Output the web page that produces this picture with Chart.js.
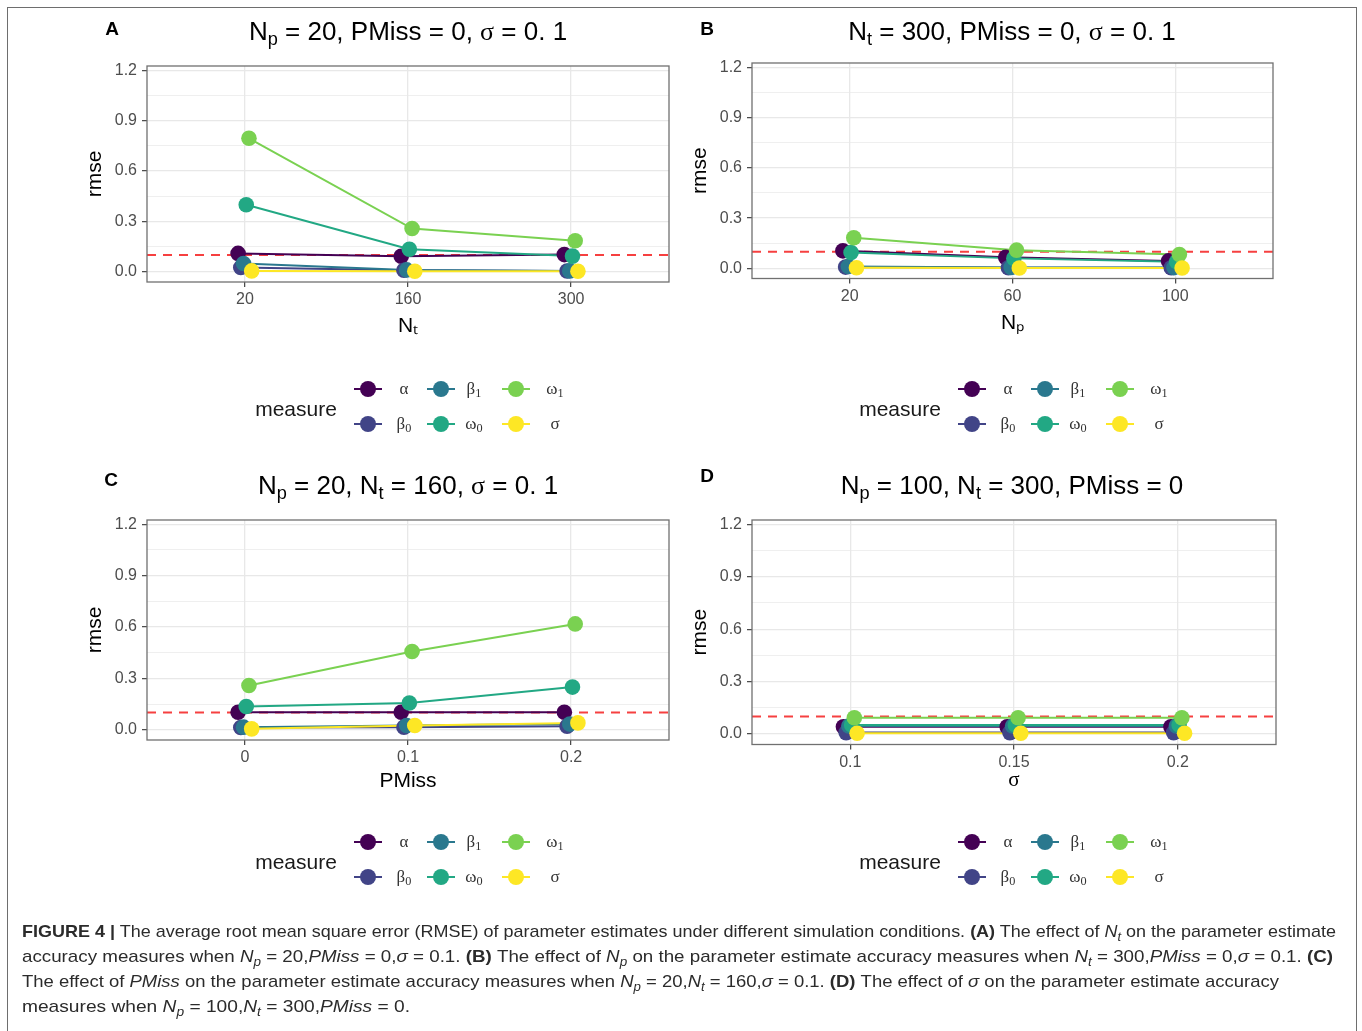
<!DOCTYPE html>
<html><head><meta charset="utf-8">
<script src="https://cdn.jsdelivr.net/npm/chart.js@4.4.0/dist/chart.umd.min.js"></script>
<style>
html,body{margin:0;padding:0;background:#fff;width:1362px;height:1031px;overflow:hidden;position:relative;}
#frame{position:absolute;left:7px;top:7px;width:1350px;height:1060px;border:1px solid #6e6e6e;box-sizing:border-box;}
canvas.pc{position:absolute;left:0;top:0;}
.letter{position:absolute;font-family:"Liberation Sans",Arial,sans-serif;font-weight:bold;font-size:19px;line-height:20px;color:#000;transform:translateX(-50%);}
.ttl{position:absolute;font-family:"Liberation Sans",Arial,sans-serif;font-size:26px;line-height:30px;color:#000;white-space:nowrap;transform:translateX(-50%);}
.ttl sub{font-size:0.7em;vertical-align:-0.3em;line-height:0;}
.sym{font-family:"Liberation Serif","DejaVu Serif",serif;}
.legtitle{position:absolute;font-family:"Liberation Sans",Arial,sans-serif;font-size:21px;line-height:24px;color:#1a1a1a;white-space:nowrap;transform:translate(-50%,-50%);}
.key{position:absolute;width:28px;height:16px;transform:translate(-50%,-50%);}
.key .ln{position:absolute;left:0;top:7px;width:28px;height:2px;}
.key .dt{position:absolute;left:6px;top:0px;width:16px;height:16px;border-radius:50%;}
.klab{position:absolute;font-family:"Liberation Serif","DejaVu Serif",serif;font-size:17px;line-height:20px;color:#333;white-space:nowrap;transform:translate(-50%,-50%);}
.klab sub{font-size:0.72em;vertical-align:-0.25em;line-height:0;}
.cap{position:absolute;left:22px;font-family:"Liberation Sans",Arial,sans-serif;font-size:17px;line-height:22px;color:#2b2b2b;white-space:nowrap;transform-origin:0 50%;}
.cap sub{font-size:0.72em;vertical-align:-0.3em;line-height:0;}
</style>
</head>
<body>
<div id="frame"></div>
<div id="root"></div>
<script>
// ---------------- DATA ----------------
const measures = ['α','β0','β1','ω0','ω1','σ'];
const measureColors = ['#440154','#414487','#2A788E','#22A884','#7AD151','#FDE725'];
const referenceRmse = 0.1;
const yMajorTicks = [0, 0.3, 0.6, 0.9, 1.2];
const yMajorLabels = ['0.0','0.3','0.6','0.9','1.2'];
const yMinorTicks = [0.15, 0.45, 0.75, 1.05];

// Panel A: effect of N_t
const catsA = ['20','160','300'];
const alphaA = [0.110, 0.093, 0.103];
const beta0A = [0.026, 0.010, 0.005];
const beta1A = [0.050, 0.012, 0.006];
const omega0A = [0.400, 0.135, 0.094];
const omega1A = [0.795, 0.258, 0.185];
const sigmaA = [0.006, 0.004, 0.004];

// Panel B: effect of N_p
const catsB = ['20','60','100'];
const alphaB = [0.105, 0.066, 0.045];
const beta0B = [0.008, 0.004, 0.004];
const beta1B = [0.012, 0.006, 0.005];
const omega0B = [0.095, 0.060, 0.040];
const omega1B = [0.183, 0.109, 0.083];
const sigmaB = [0.004, 0.003, 0.003];

// Panel C: effect of PMiss
const catsC = ['0','0.1','0.2'];
const alphaC = [0.102, 0.102, 0.102];
const beta0C = [0.013, 0.015, 0.020];
const beta1C = [0.015, 0.025, 0.033];
const omega0C = [0.136, 0.156, 0.249];
const omega1C = [0.258, 0.457, 0.618];
const sigmaC = [0.005, 0.025, 0.040];

// Panel D: effect of sigma
const catsD = ['0.1','0.15','0.2'];
const alphaD = [0.042, 0.042, 0.042];
const beta0D = [0.008, 0.008, 0.008];
const beta1D = [0.046, 0.046, 0.046];
const omega0D = [0.052, 0.052, 0.052];
const omega1D = [0.093, 0.093, 0.093];
const sigmaD = [0.004, 0.004, 0.004];

// ---------------- LAYOUT ----------------
const W = 1362, H = 1031;
const sansFamily = '"Liberation Sans", Arial, sans-serif';
const serifFamily = '"Liberation Serif", "DejaVu Serif", serif';
const panels = [
  {cats: catsA, series: [alphaA,beta0A,beta1A,omega0A,omega1A,sigmaA], xTitle: 'N\u209C', xFam: sansFamily,
   L:147, R:669, T:66, B:282, yTitleX:95, xTitleY:326},
  {cats: catsB, series: [alphaB,beta0B,beta1B,omega0B,omega1B,sigmaB], xTitle: 'N\u209A', xFam: sansFamily,
   L:752, R:1273, T:63, B:278.5, yTitleX:700, xTitleY:323},
  {cats: catsC, series: [alphaC,beta0C,beta1C,omega0C,omega1C,sigmaC], xTitle: 'PMiss', xFam: sansFamily,
   L:147, R:669, T:520, B:740, yTitleX:95, xTitleY:781},
  {cats: catsD, series: [alphaD,beta0D,beta1D,omega0D,omega1D,sigmaD], xTitle: 'σ', xFam: serifFamily,
   L:752, R:1276, T:520, B:744.5, yTitleX:700, xTitleY:780},
];

const root = document.getElementById('root');
const isMajor = v => yMajorTicks.some(m => Math.abs(m - v) < 1e-9);

const borderPlugin = {
  id: 'panelBorder',
  afterDraw(chart) {
    const a = chart.chartArea, c = chart.ctx;
    c.save();
    c.strokeStyle = '#707070';
    c.lineWidth = 1.3;
    c.strokeRect(a.left, a.top, a.right - a.left, a.bottom - a.top);
    c.restore();
  }
};

const titleSize = 21;
const tickFont = {family: sansFamily, size: 16};
const XMIN = -0.6, XMAX = 2.6, YMIN = -0.06, YMAX = 1.225;
const dodge = 0.1;

panels.forEach((p) => {
  const cv = document.createElement('canvas');
  cv.className = 'pc';
  cv.width = W; cv.height = H;
  root.appendChild(cv);
  const lh = titleSize * 1.2;
  const YW = p.L - p.yTitleX + 4 + lh / 2;
  const XH = p.xTitleY + 4 + lh / 2 - p.B;
  const datasets = [];
  datasets.push({
    data: [{x: XMIN, y: referenceRmse}, {x: XMAX, y: referenceRmse}],
    showLine: true, borderColor: 'rgba(245,30,30,0.85)', borderWidth: 2, borderDash: [9, 7],
    pointRadius: 0, order: 20
  });
  const n = measures.length;
  p.series.forEach((vals, si) => {
    const off = (si - (n - 1) / 2) * dodge / n;
    const pts = vals.map((v, ci) => ({x: ci + off, y: v}));
    datasets.push({label: measures[si], data: pts, showLine: true, borderColor: measureColors[si],
      borderWidth: 2, pointRadius: 0, order: 10 + (n - 1 - si)});
    datasets.push({label: measures[si], data: pts, showLine: false, backgroundColor: measureColors[si],
      pointBackgroundColor: measureColors[si], pointBorderWidth: 0, pointRadius: 7.8, order: (n - 1 - si)});
  });
  new Chart(cv, {
    type: 'scatter',
    data: {datasets},
    plugins: [borderPlugin],
    options: {
      responsive: false, animation: false, devicePixelRatio: 1,
      layout: {padding: {left: p.L - YW, right: W - p.R, top: p.T, bottom: H - p.B - XH}},
      plugins: {legend: {display: false}, tooltip: {enabled: false}},
      scales: {
        x: {
          type: 'linear', min: XMIN, max: XMAX,
          afterFit: s => { s.height = XH; },
          afterBuildTicks: s => { s.ticks = p.cats.map((c, i) => ({value: i})); },
          ticks: {callback: v => p.cats[v], font: tickFont, color: '#4d4d4d', padding: 3,
                  maxRotation: 0, autoSkip: false},
          grid: {color: '#e8e8e8', lineWidth: 1.3, tickLength: 5, tickColor: '#444', tickWidth: 1.2},
          border: {display: false},
          title: {display: true, text: p.xTitle, font: {family: p.xFam, size: titleSize}, color: '#000', padding: {top: 0, bottom: 4}}
        },
        y: {
          type: 'linear', min: YMIN, max: YMAX,
          afterFit: s => { s.width = YW; },
          afterBuildTicks: s => {
            s.ticks = yMajorTicks.concat(yMinorTicks).sort((a, b) => a - b).map(v => ({value: v}));
          },
          ticks: {
            callback: v => { const i = yMajorTicks.findIndex(m => Math.abs(m - v) < 1e-9); return i >= 0 ? yMajorLabels[i] : ''; },
            font: tickFont, color: '#4d4d4d', padding: 5, autoSkip: false
          },
          grid: {
            color: '#e8e8e8',
            lineWidth: ctx => isMajor(ctx.tick.value) ? 1.3 : 0.7,
            tickLength: 5,
            tickColor: ctx => isMajor(ctx.tick.value) ? '#444' : 'rgba(0,0,0,0)',
            tickWidth: 1.2
          },
          border: {display: false},
          title: {display: true, text: 'rmse', font: {family: sansFamily, size: titleSize}, color: '#000', padding: {top: 4, bottom: 0}}
        }
      }
    }
  });
});

// ---------------- TEXT: letters, titles ----------------
function addEl(cls, html, x, y, parent) {
  const d = document.createElement('div');
  d.className = cls; d.innerHTML = html;
  d.style.left = x + 'px'; d.style.top = y + 'px';
  (parent || root).appendChild(d);
  return d;
}
addEl('letter', 'A', 112, 19);
addEl('letter', 'B', 707, 19);
addEl('letter', 'C', 111, 470);
addEl('letter', 'D', 707, 466);
addEl('ttl', 'N<sub>p</sub> = 20, PMiss = 0, <span class="sym">σ</span> = 0. 1', 408, 16);
addEl('ttl', 'N<sub>t</sub> = 300, PMiss = 0, <span class="sym">σ</span> = 0. 1', 1012, 16);
addEl('ttl', 'N<sub>p</sub> = 20, N<sub>t</sub> = 160, <span class="sym">σ</span> = 0. 1', 408, 470);
addEl('ttl', 'N<sub>p</sub> = 100, N<sub>t</sub> = 300, PMiss = 0', 1012, 470);

// ---------------- LEGENDS ----------------
const legendOrigins = [[368, 389], [972, 389], [368, 842], [972, 842]];
const keyDx = [0, 73, 148];
const labDx = [36, 106, 187];
const rowDy = [0, 35];
function labelHtml(m) {
  const base = m.charAt(0), sub = m.slice(1);
  return base + (sub ? '<sub>' + sub + '</sub>' : '');
}
legendOrigins.forEach(([ox, oy]) => {
  addEl('legtitle', 'measure', ox - 72, oy + 20);
  measures.forEach((m, i) => {
    const col = Math.floor(i / 2), row = i % 2;
    const k = addEl('key', '<div class="ln"></div><div class="dt"></div>', ox + keyDx[col], oy + rowDy[row]);
    k.querySelector('.ln').style.background = measureColors[i];
    k.querySelector('.dt').style.background = measureColors[i];
    addEl('klab', labelHtml(m), ox + labDx[col], oy + rowDy[row]);
  });
});

// ---------------- CAPTION ----------------
const N = s => '<i>N</i><sub><i>' + s + '</i></sub>';
const capLines = [
  '<b>FIGURE 4 |</b> The average root mean square error (RMSE) of parameter estimates under different simulation conditions. <b>(A)</b> The effect of ' + N('t') + ' on the parameter estimate',
  'accuracy measures when ' + N('p') + ' = 20,<i>PMiss</i> = 0,<i>σ</i> = 0.1. <b>(B)</b> The effect of ' + N('p') + ' on the parameter estimate accuracy measures when ' + N('t') + ' = 300,<i>PMiss</i> = 0,<i>σ</i> = 0.1. <b>(C)</b>',
  'The effect of <i>PMiss</i> on the parameter estimate accuracy measures when ' + N('p') + ' = 20,' + N('t') + ' = 160,<i>σ</i> = 0.1. <b>(D)</b> The effect of <i>σ</i> on the parameter estimate accuracy',
  'measures when ' + N('p') + ' = 100,' + N('t') + ' = 300,<i>PMiss</i> = 0.'
];
const capY = [932, 957, 982, 1007];
const capW = [1314, 1311, 1257, 388];
capLines.forEach((t, i) => {
  const d = addEl('cap', t, 22, capY[i] - 11);
  const w = d.getBoundingClientRect().width;
  d.style.transform = 'scaleX(' + (capW[i] / w) + ')';
});
</script>
</body></html>
